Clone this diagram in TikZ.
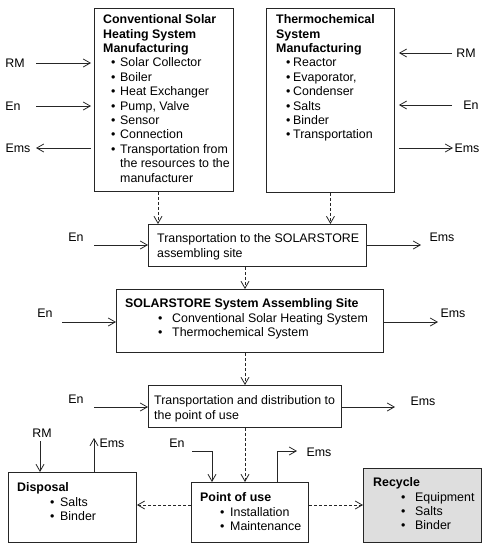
\documentclass[tikz,border=0pt]{standalone}
\usepackage{fontspec}
\setmainfont{Liberation Sans}
\usetikzlibrary{arrows.meta}
\newcommand{\bitem}[3]{\hspace*{#1}\makebox[#2][l]{\textbullet}#3}
\newcommand{\st}{\rule{0pt}{10pt}}
\begin{document}
\begin{tikzpicture}[x=1pt,y=-1pt,font=\fontsize{12.4}{14.4}\selectfont,
  box/.style={draw=black!85,line width=0.9pt,anchor=north west,inner sep=0pt},
  txt/.style={anchor=north west,inner sep=0pt,align=left},
  lbl/.style={inner sep=0pt},
  arr/.style={draw=black!85,line width=0.8pt,-{Straight Barb[length=7pt,width=8pt]}},
  darr/.style={arr,dash pattern=on 3pt off 2pt}]
\useasboundingbox (0,0) rectangle (487,550);
% boxes
\node[box,minimum width=139pt,minimum height=183pt] (b1) at (94,8) {};
\node[box,minimum width=128pt,minimum height=184pt] (b2) at (266,8) {};
\node[box,minimum width=218pt,minimum height=42pt] (t1) at (148,224) {};
\node[box,minimum width=267pt,minimum height=63pt] (as) at (116,289) {};
\node[box,minimum width=193pt,minimum height=42pt] (t2) at (148,385) {};
\node[box,minimum width=117pt,minimum height=60pt] (pu) at (191,482) {};
\node[box,minimum width=128pt,minimum height=70pt] (dp) at (8,472) {};
\node[box,minimum width=118pt,minimum height=74pt,fill=black!13] (rc) at (363,468) {};
% texts
\node[txt] (b1t) at (103,13.5) {\st\textbf{Conventional Solar}\\\textbf{Heating System}\\\textbf{Manufacturing}\\
\bitem{8pt}{9pt}{Solar Collector}\\\bitem{8pt}{9pt}{Boiler}\\\bitem{8pt}{9pt}{Heat Exchanger}\\
\bitem{8pt}{9pt}{Pump, Valve}\\\bitem{8pt}{9pt}{Sensor}\\\bitem{8pt}{9pt}{Connection}\\
\bitem{8pt}{9pt}{Transportation from}\\\hspace*{17pt}the resources to the\\\hspace*{17pt}manufacturer};
\node[txt] (b2t) at (276,13.5) {\st\textbf{Thermochemical}\\\textbf{System}\\\textbf{Manufacturing}\\
\bitem{10pt}{7pt}{Reactor}\\\bitem{10pt}{7pt}{Evaporator,}\\\bitem{10pt}{7pt}{Condenser}\\
\bitem{10pt}{7pt}{Salts}\\\bitem{10pt}{7pt}{Binder}\\\bitem{10pt}{7pt}{Transportation}};
\node[txt] (t1t) at (157,232.5) {\st Transportation to the SOLARSTORE\\assembling site};
\node[txt] (ast) at (125,297.5) {\st\textbf{SOLARSTORE System Assembling Site}\\
\bitem{33pt}{14pt}{Conventional Solar Heating System}\\\bitem{33pt}{14pt}{Thermochemical System}};
\node[txt] (t2t) at (154,394.5) {\st Transportation and distribution to\\the point of use};
\node[txt] (put) at (200,491.5) {\st\textbf{Point of use}\\\bitem{20pt}{10pt}{Installation}\\\bitem{20pt}{10pt}{Maintenance}};
\node[txt] (dpt) at (17,481.5) {\st\textbf{Disposal}\\\bitem{33pt}{10pt}{Salts}\\\bitem{33pt}{10pt}{Binder}};
\node[txt] (rct) at (373,476.5) {\st\textbf{Recycle}\\\bitem{28pt}{14pt}{Equipment}\\\bitem{28pt}{14pt}{Salts}\\\bitem{28pt}{14pt}{Binder}};
% labels
\node[lbl] (lrm) at (15,63) {RM};
\node[lbl] (len) at (13,106) {En};
\node[lbl] (lems) at (18,148) {Ems};
\node[lbl] (rrm) at (466,53) {RM};
\node[lbl] (ren) at (471,105) {En};
\node[lbl] (rems) at (467,148) {Ems};
\node[lbl] (t1en) at (76,237) {En};
\node[lbl] (t1ems) at (442,237) {Ems};
\node[lbl] (asen) at (45,313) {En};
\node[lbl] (asems) at (453,313) {Ems};
\node[lbl] (t2en) at (76,399) {En};
\node[lbl] (t2ems) at (423,401) {Ems};
\node[lbl] (dprm) at (42,433) {RM};
\node[lbl] (dpems) at (112,443) {Ems};
\node[lbl] (puen) at (177,443) {En};
\node[lbl] (puems) at (319,452) {Ems};
% free-end coordinates
\coordinate (clrm) at (36,63);
\coordinate (clen) at (36,106);
\coordinate (clems) at (36,148);
\coordinate (crrm) at (452,53);
\coordinate (cren) at (452,105);
\coordinate (crems) at (453,148);
\coordinate (ct1en) at (94,245);
\coordinate (ct1ems) at (421,245);
\coordinate (casen) at (62,322);
\coordinate (casems) at (438,322);
\coordinate (ct2en) at (94,407);
\coordinate (ct2ems) at (395,407);
\coordinate (cdprm) at (40,441);
\coordinate (cdpems) at (94,438);
\coordinate (cpuen) at (192,451);
\coordinate (cpuenk) at (212,451);
\coordinate (cpuemsk) at (277,451);
\coordinate (cpuems) at (297,451);
\coordinate (xa) at (158,0);
\coordinate (xc) at (245,0);
\coordinate (yd) at (0,505);
% arrows
\draw[arr,shorten >=3pt] (clrm) -- (clrm -| b1.west);
\draw[arr,shorten >=3pt] (clen) -- (clen -| b1.west);
\draw[arr,shorten <=3pt] (clems -| b1.west) -- (clems);
\draw[arr,shorten >=4pt] (crrm) -- (crrm -| b2.east);
\draw[arr,shorten >=4pt] (cren) -- (cren -| b2.east);
\draw[arr,shorten <=4pt] (crems -| b2.east) -- (crems);
\draw[arr] (ct1en) -- (ct1en -| t1.west);
\draw[arr] (ct1ems -| t1.east) -- (ct1ems);
\draw[arr] (casen) -- (casen -| as.west);
\draw[arr] (casems -| as.east) -- (casems);
\draw[arr] (ct2en) -- (ct2en -| t2.west);
\draw[arr] (ct2ems -| t2.east) -- (ct2ems);
\draw[arr] (cdprm) -- (cdprm |- dp.north);
\draw[arr] (cdpems |- dp.north) -- (cdpems);
\draw[arr] (cpuen) -- (cpuenk) -- (cpuenk |- pu.north);
\draw[arr] (cpuemsk |- pu.north) -- (cpuemsk) -- (cpuems);
% dashed
\draw[darr] (xa |- b1.south) -- (xa |- t1.north);
\draw[darr] (b2.south) -- (b2.south |- t1.north);
\draw[darr] (xc |- t1.south) -- (xc |- as.north);
\draw[darr] (xc |- as.south) -- (xc |- t2.north);
\draw[darr] (xc |- t2.south) -- (xc |- pu.north);
\draw[darr] (yd -| pu.west) -- (yd -| dp.east);
\draw[darr] (yd -| pu.east) -- (yd -| rc.west);
\end{tikzpicture}
\end{document}
